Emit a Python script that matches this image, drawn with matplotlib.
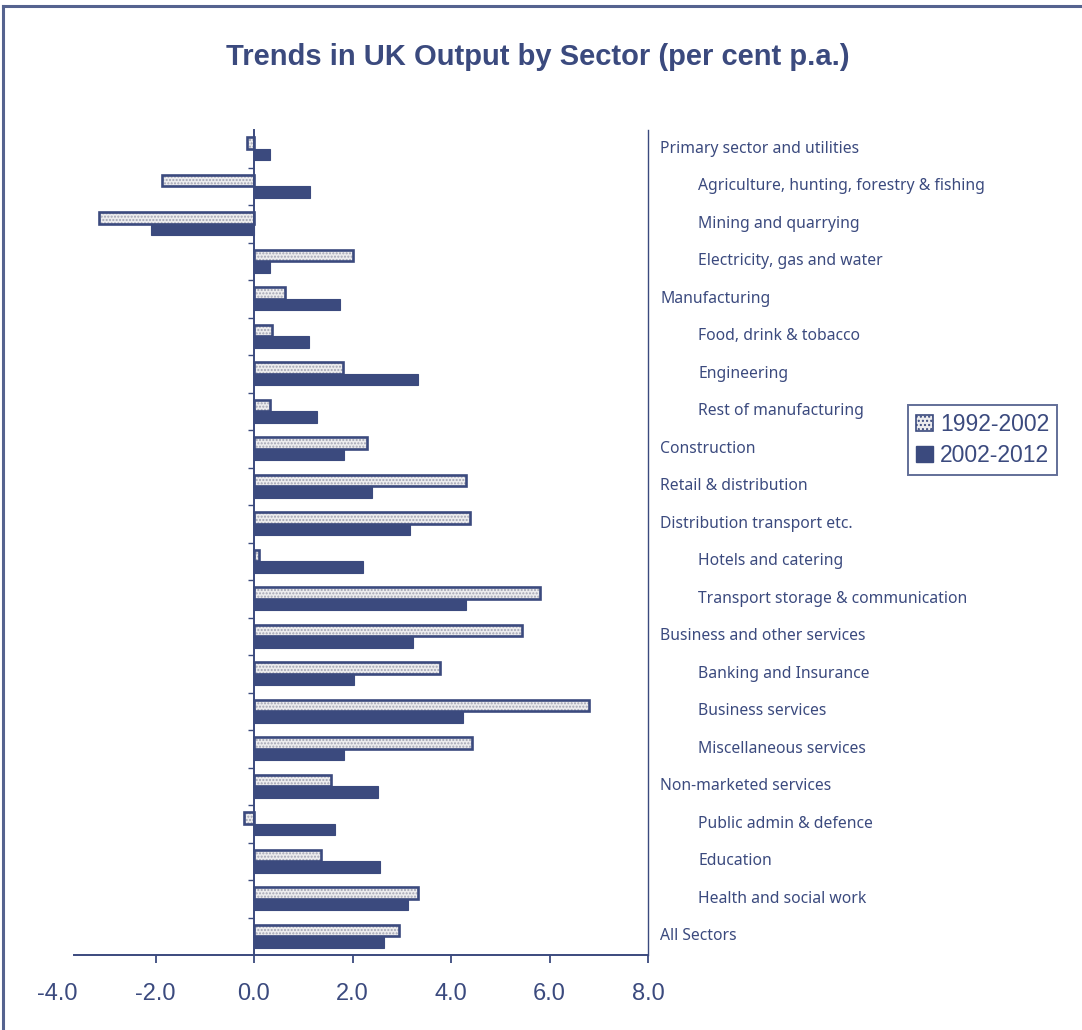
import matplotlib
matplotlib.use("Agg")
import matplotlib.pyplot as plt
from matplotlib.patches import Rectangle
from matplotlib.lines import Line2D
import numpy as np

categories = [
    "Primary sector and utilities",
    "Agriculture, hunting, forestry & fishing",
    "Mining and quarrying",
    "Electricity, gas and water",
    "Manufacturing",
    "Food, drink & tobacco",
    "Engineering",
    "Rest of manufacturing",
    "Construction",
    "Retail & distribution",
    "Distribution transport etc.",
    "Hotels and catering",
    "Transport storage & communication",
    "Business and other services",
    "Banking and Insurance",
    "Business services",
    "Miscellaneous services",
    "Non-marketed services",
    "Public admin & defence",
    "Education",
    "Health and social work",
    "All Sectors",
]
indented = [False, True, True, True, False, True, True, True, False, False, False,
            True, True, False, True, True, True, False, True, True, True, False]

series_names = ["1992-2002", "2002-2012"]
values_1992_2002 = [-0.15, -1.86, -3.15, 2.0, 0.62, 0.37, 1.8, 0.32, 2.29, 4.3, 4.39,
                    0.1, 5.81, 5.44, 3.78, 6.8, 4.43, 1.56, -0.21, 1.36, 3.34, 2.95]
values_2002_2012 = [0.33, 1.13, -2.1, 0.32, 1.75, 1.12, 3.33, 1.27, 1.83, 2.39, 3.17,
                    2.22, 4.31, 3.23, 2.04, 4.24, 1.83, 2.51, 1.64, 2.55, 3.13, 2.64]
xtick_values = [-4.0, -2.0, 0.0, 2.0, 4.0, 6.0, 8.0]

NAVY = "#3b4a7e"
LIGHT = "#ececee"
HATCH = "#a2a4b2"

plt.rcParams["hatch.linewidth"] = 1.0

fig = plt.figure(figsize=(10.82, 10.30), dpi=100)
ax = fig.add_axes([57 / 1082, 1 - 955 / 1030, (648 - 57) / 1082, (955 - 130) / 1030])

y = np.arange(len(categories))
h = 0.31
# light series: hatched fill + navy outline
ax.barh(y - h / 2, values_1992_2002, height=h, color=LIGHT, edgecolor=HATCH,
        hatch=".....", linewidth=0, zorder=2)
ax.barh(y - h / 2, values_1992_2002, height=h, fill=False, edgecolor=NAVY,
        linewidth=1.9, zorder=3)
ax.barh(y + h / 2, values_2002_2012, height=h, color=NAVY, edgecolor=NAVY,
        linewidth=0.8, zorder=3)

ax.set_xlim(-4, 8)
ax.set_ylim(len(categories) - 0.5, -0.5)

ax.spines["top"].set_visible(False)
ax.spines["left"].set_position(("data", 0))
ax.spines["bottom"].set_bounds(-3.65, 8)
for s in ["left", "right", "bottom"]:
    ax.spines[s].set_color(NAVY)
    ax.spines[s].set_linewidth(1.4)
ax.spines["right"].set_linewidth(1.0)

ax.set_xticks(xtick_values)
ax.set_xticklabels([f"{v:.1f}" for v in xtick_values])
ax.tick_params(axis="x", direction="out", length=6, width=1.3, color=NAVY,
               labelcolor=NAVY, labelsize=17, pad=14)
ax.xaxis.get_major_ticks()[0].tick1line.set_visible(False)
for lab in ax.get_xticklabels():
    lab.set_family("Liberation Sans")

ax.set_yticks(np.arange(len(categories) - 1) + 0.5)
ax.set_yticklabels([])
ax.tick_params(axis="y", direction="out", length=4, width=1.0, color=NAVY)

for i, (cat, ind) in enumerate(zip(categories, indented)):
    ax.annotate(cat, xy=(1, i), xycoords=("axes fraction", "data"),
                xytext=(50 if ind else 12, 0), textcoords="offset pixels",
                ha="left", va="center", fontsize=11.3, color=NAVY,
                family="Noto Sans")

fig.text(538 / 1082, 1 - 57 / 1030, "Trends in UK Output by Sector (per cent p.a.)",
         ha="center", va="center", fontsize=21, fontweight="bold", color=NAVY,
         family="Liberation Sans")

handles = [Rectangle((0, 0), 1, 1, facecolor=LIGHT, edgecolor=NAVY, hatch="....",
                     linewidth=1.2),
           Rectangle((0, 0), 1, 1, facecolor=NAVY, edgecolor=NAVY)]
leg = fig.legend(handles, series_names, loc="upper left",
                 bbox_to_anchor=(908 / 1082, 1 - 405 / 1030), borderaxespad=0,
                 frameon=True, fancybox=False, handlelength=0.75, handleheight=0.75,
                 handletextpad=0.3, labelspacing=0.35, borderpad=0.35,
                 prop={"family": "Liberation Sans", "size": 16.5})
leg.get_frame().set_edgecolor(NAVY)
leg.get_frame().set_linewidth(1.4)
for t in leg.get_texts():
    t.set_color(NAVY)

# page border (top and left edges)
fig.add_artist(Line2D([3 / 1082, 3 / 1082], [0, 1 - 6 / 1030], color="#55638f",
                      linewidth=2.2, transform=fig.transFigure))
fig.add_artist(Line2D([3 / 1082, 1], [1 - 6 / 1030, 1 - 6 / 1030], color="#55638f",
                      linewidth=2.2, transform=fig.transFigure))

fig.savefig("out.png", dpi=100)
